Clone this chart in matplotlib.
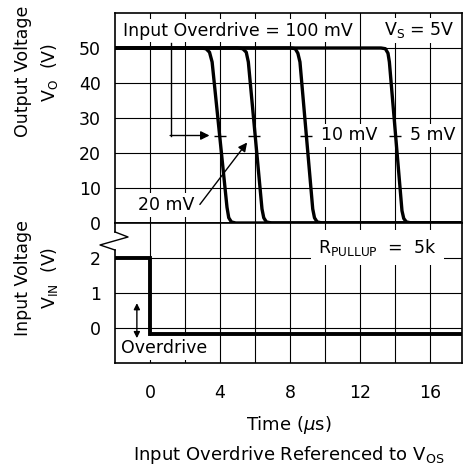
import numpy as np
import matplotlib
matplotlib.use('Agg')
import matplotlib.pyplot as plt

# output curves, one per input overdrive
t_100 = [-2, 2.9, 3.2, 3.4, 3.55, 4.4, 4.5, 4.65, 4.9, 18]
v_100 = [50, 50, 49.8, 48.8, 46, 4.5, 1.5, 0.3, 0, 0]
t_20 = [-2, 5.0, 5.3, 5.5, 5.62, 6.4, 6.5, 6.65, 6.95, 18]
v_20 = [50, 50, 49.8, 48.8, 46, 4, 1.5, 0.3, 0, 0]
t_10 = [-2, 8.05, 8.3, 8.45, 8.57, 9.3, 9.4, 9.55, 9.85, 18]
v_10 = [50, 50, 49.8, 48.5, 46, 4, 1.5, 0.3, 0, 0]
t_5 = [-2, 13.2, 13.45, 13.6, 13.68, 14.4, 14.5, 14.65, 14.95, 18]
v_5 = [50, 50, 49.8, 48.5, 46, 3.5, 1.3, 0.3, 0, 0]

# 50% marks on each output edge
mark_t = [4.0, 5.95, 8.92, 14.02]
mark_v = [25, 25, 25, 25]

# input step
t_in = [-2, 0, 0, 18]
v_in = [2, 2, -0.17, -0.17]

x_ticks = [0, 2, 4, 6, 8, 10, 12, 14, 16]
x_labels = ['0', '', '4', '', '8', '', '12', '', '16']
out_ticks = [0, 10, 20, 30, 40, 50]
in_ticks = [0, 1, 2]

plt.rcParams['font.family'] = 'DejaVu Sans'
plt.rcParams['font.size'] = 12.5
plt.rcParams['mathtext.default'] = 'regular'

fig = plt.figure(figsize=(4.66, 4.71), dpi=100)
W, H = 466.0, 471.0
L, R = 115 / W, 347 / W
ax1 = fig.add_axes([L, 1 - 223 / H, R, 210 / H])
ax2 = fig.add_axes([L, 1 - 363 / H, R, 140 / H], sharex=ax1)

for ax in (ax1, ax2):
    ax.set_xlim(-2, 17.83)
    ax.set_xticks(x_ticks)
    ax.grid(True, color='black', lw=0.8)
    ax.tick_params(length=0, labelsize=12.5, pad=10)
    for s in ax.spines.values():
        s.set_linewidth(1.2)
    ax.set_axisbelow(True)

ax1.set_ylim(0, 60)
ax1.set_yticks(out_ticks)
ax1.tick_params(axis='x', labelbottom=False)
ax2.set_ylim(-1, 3)
ax2.set_yticks(in_ticks)
ax2.set_xticklabels(x_labels)
ax2.tick_params(axis='x', pad=15)

bw = 2.4
for t, v in [(t_100, v_100), (t_20, v_20), (t_10, v_10), (t_5, v_5)]:
    ax1.plot(t, v, color='black', lw=bw, solid_joinstyle='round', zorder=5)
ax1.plot(mark_t, mark_v, ls='none', marker='_', ms=9, mew=1, color='black', zorder=5)
ax2.plot(t_in, v_in, color='black', lw=2.8, solid_joinstyle='miter', zorder=5)

box = dict(facecolor='white', edgecolor='none', pad=2)
ax1.text(-1.55, 55, 'Input Overdrive = 100 mV', va='center', ha='left', bbox=box, zorder=4)
ax1.text(17.4, 55, 'V$_S$ = 5V', va='center', ha='right', bbox=box, zorder=4)
ax1.text(9.8, 25, '10 mV', va='center', ha='left', bbox=box, zorder=4)
ax1.text(14.85, 25, '5 mV', va='center', ha='left', bbox=box, zorder=4)
ax1.text(0.95, 5.1, '20 mV', va='center', ha='center', bbox=box, zorder=4)

# 100 mV bracket
ax1.plot([1.2, 1.2], [51.5, 25], color='black', lw=1, zorder=5)
ax1.annotate('', xy=(3.4, 25), xytext=(1.15, 25),
             arrowprops=dict(arrowstyle='-|>', color='black', lw=1,
                             mutation_scale=13, shrinkA=0, shrinkB=0), zorder=5)
ax1.annotate('', xy=(5.55, 23.0), xytext=(2.85, 5.3),
             arrowprops=dict(arrowstyle='-|>', color='black', lw=1,
                             mutation_scale=13, shrinkA=0, shrinkB=0), zorder=5)

ax2.text(13.0, 2.29, 'R$_{PULLUP}$  =  5k', va='center', ha='center',
         bbox=dict(facecolor='white', edgecolor='none', pad=5), zorder=4)
ax2.text(-1.66, -0.57, 'Overdrive', va='center', ha='left', bbox=box, zorder=4)
ax2.annotate('', xy=(-0.75, 0.71), xytext=(-0.75, -0.29),
             arrowprops=dict(arrowstyle='<|-|>', color='black', lw=1,
                             mutation_scale=9, shrinkA=0, shrinkB=0), zorder=5)

# axis break on the left edge
ax2.spines['left'].set_visible(False)
ax2.plot([0, 0], [0, 0.807], transform=ax2.transAxes, color='black', lw=1.2, clip_on=False)
ax2.plot([0, 0], [0.936, 1], transform=ax2.transAxes, color='black', lw=1.2, clip_on=False)
ax2.plot([0, 0.0375, -0.0432, 0], [0.936, 0.9, 0.843, 0.807],
         transform=ax2.transAxes, color='black', lw=1, clip_on=False)

fig.text(23 / W, 1 - 71 / H, 'Output Voltage', rotation=90, ha='center', va='center')
fig.text(49 / W, 1 - 72 / H, 'V$_O$  (V)', rotation=90, ha='center', va='center')
fig.text(23 / W, 1 - 278 / H, 'Input Voltage', rotation=90, ha='center', va='center')
fig.text(49 / W, 1 - 278 / H, 'V$_{IN}$  (V)', rotation=90, ha='center', va='center')
fig.text(289 / W, 1 - 425 / H, 'Time ($\\mathit{\\mu}$s)', ha='center', va='center', fontsize=13)
fig.text(289 / W, 1 - 455 / H, 'Input Overdrive Referenced to V$_{OS}$',
         ha='center', va='center', fontsize=13)

fig.savefig('out.png', dpi=100)
